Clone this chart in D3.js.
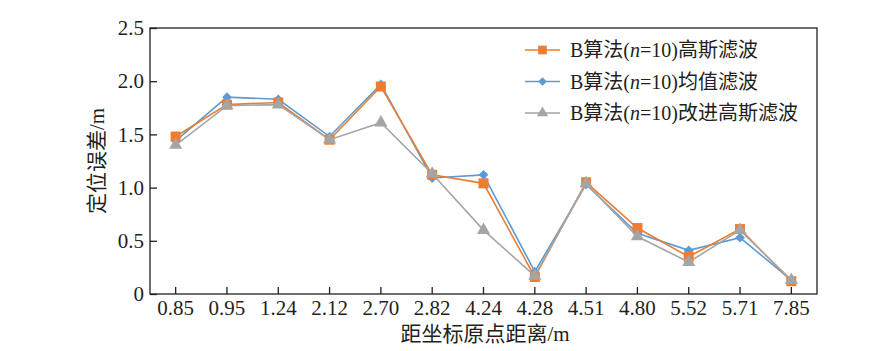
<!DOCTYPE html>
<html><head><meta charset="utf-8">
<script src="https://cdn.jsdelivr.net/npm/d3@7"></script>
<style>body{margin:0;background:#fff}svg{display:block}</style>
</head><body><svg id="c" width="881" height="351"></svg>
<script>
const categories = ["0.85","0.95","1.24","2.12","2.70","2.82","4.24","4.28","4.51","4.80","5.52","5.71","7.85"];
const gaussian = [1.48,1.78,1.80,1.45,1.95,1.12,1.04,0.16,1.05,0.62,0.35,0.61,0.12];
const mean     = [1.44,1.85,1.83,1.48,1.97,1.09,1.12,0.21,1.03,0.57,0.41,0.53,0.13];
const improved = [1.40,1.77,1.78,1.45,1.61,1.13,0.60,0.17,1.04,0.54,0.30,0.60,0.13];
const yTicks = [0,0.5,1.0,1.5,2.0,2.5];
const seriesNames = ["B算法(n=10)高斯滤波","B算法(n=10)均值滤波","B算法(n=10)改进高斯滤波"];

const serif = "'Liberation Serif','Times New Roman','Noto Sans CJK SC',serif";
const svg = d3.select("#c");
const L=150,T=28,R=817,B=294;
const x = d3.scaleBand().domain(categories).range([L,R]).padding(0);
const y = d3.scaleLinear().domain([0,2.5]).range([B,T]);
const cx = d => x(d)+x.bandwidth()/2;
const axisCol="#231f20";

svg.append("rect").attr("x",L).attr("y",T).attr("width",R-L).attr("height",B-T)
  .attr("fill","none").attr("stroke",axisCol).attr("stroke-width",1.3);

const ya = svg.append("g").attr("transform",`translate(${L},0)`)
  .call(d3.axisLeft(y).tickValues(yTicks).tickSize(-7).tickPadding(6)
  .tickFormat(d=> d===0?"0":d3.format(".1f")(d)));
ya.select(".domain").remove();
ya.selectAll("line").attr("stroke",axisCol).attr("stroke-width",1.3);
ya.selectAll("text").attr("font-family",serif).attr("font-size",21).attr("fill","#231f20");

const xa = svg.append("g").attr("transform",`translate(0,${B})`)
  .call(d3.axisBottom(x).tickSize(-7).tickPadding(6));
xa.select(".domain").remove();
xa.selectAll("line").attr("stroke",axisCol).attr("stroke-width",1.3);
xa.selectAll("text").attr("font-family",serif).attr("font-size",21).attr("fill","#231f20");

svg.append("text").attr("transform","translate(104,161) rotate(-90)").attr("text-anchor","middle")
  .attr("font-family",serif).attr("font-size",21).attr("fill","#231f20").text("定位误差/m");
svg.append("text").attr("x",485).attr("y",341).attr("text-anchor","middle")
  .attr("font-family",serif).attr("font-size",21).attr("fill","#231f20").text("距坐标原点距离/m");

const series = [
  {name:seriesNames[1], vals:mean, color:"#5B9BD5", shape:d3.symbolDiamond2, size:60},
  {name:seriesNames[0], vals:gaussian, color:"#ED7D31", shape:d3.symbolSquare, size:100},
  {name:seriesNames[2], vals:improved, color:"#A5A5A5", shape:d3.symbolTriangle, size:75}
];
const line = d3.line().x((d,i)=>cx(categories[i])).y(d=>y(d));
series.forEach(s=>{
  svg.append("path").attr("d",line(s.vals)).attr("fill","none").attr("stroke",s.color).attr("stroke-width",1.6);
  svg.selectAll(null).data(s.vals).enter().append("path")
    .attr("d",d3.symbol().type(s.shape).size(s.size))
    .attr("transform",(d,i)=>`translate(${cx(categories[i])},${y(d)})`)
    .attr("fill",s.color);
});

const legOrder = [series[1],series[0],series[2]];
legOrder.forEach((s,i)=>{
  const ly = 50 + i*31.5;
  const g = svg.append("g");
  g.append("line").attr("x1",525).attr("x2",560).attr("y1",ly).attr("y2",ly).attr("stroke",s.color).attr("stroke-width",1.6);
  g.append("path").attr("d",d3.symbol().type(s.shape).size(s.size*0.75)).attr("transform",`translate(542.5,${ly})`).attr("fill",s.color);
  const t = g.append("text").attr("x",570).attr("y",ly+7).attr("font-family",serif).attr("font-size",20).attr("fill","#231f20");
  const parts = s.name.split("n");
  t.append("tspan").text(parts[0]);
  t.append("tspan").attr("font-style","italic").text("n");
  t.append("tspan").text(parts[1]);
});
</script></body></html>
